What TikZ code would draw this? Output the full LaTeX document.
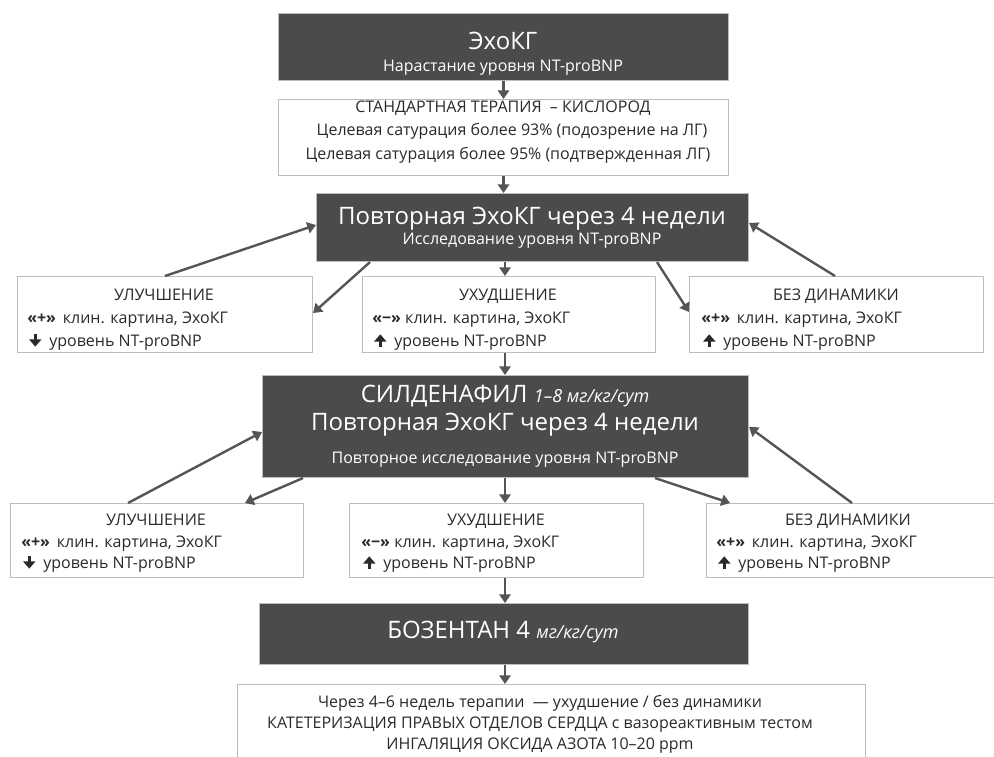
\documentclass[tikz,border=0pt]{standalone}
\usepackage{fontspec}
\setmainfont{Open Sans}
\usetikzlibrary{arrows.meta,calc}
\definecolor{darkbox}{HTML}{4B4B4D}
\definecolor{boxline}{HTML}{BDBDBD}
\definecolor{arrowc}{HTML}{555555}
\definecolor{txt}{HTML}{2A2A2A}
\newcommand{\bigtxt}{\fontsize{18}{20}\selectfont}
\newcommand{\smtxt}{\fontsize{12}{14}\selectfont}
\newcommand{\ittxt}{\fontsize{13.5}{15}\selectfont\itshape}
\newcommand{\dnarrow}{\tikz[baseline=0pt]\draw[txt,line width=2.1pt,-{Triangle[width=9pt,length=5.5pt]}] (0pt,9pt) -- (0pt,-0.5pt);\hspace{6pt}}
\newcommand{\uparr}{\tikz[baseline=0pt]\draw[txt,line width=2.1pt,-{Triangle[width=9pt,length=5.5pt]}] (0pt,-1pt) -- (0pt,8.8pt);\hspace{6pt}}
\begin{document}
\begin{tikzpicture}[x=0.75pt,y=-0.75pt,
  dbox/.style={draw=boxline, fill=darkbox, line width=0.8pt, inner sep=0pt, anchor=north west},
  wbox/.style={draw=boxline, fill=white, line width=0.8pt, inner sep=0pt, anchor=north west},
  arr/.style={draw=arrowc, line width=1.8pt, -{Triangle[width=8.5pt,length=6.5pt]}},
  wt/.style={text=white, inner sep=0pt, anchor=base},
  bt/.style={text=txt, inner sep=0pt, anchor=base},
  lt/.style={text=txt, inner sep=0pt, anchor=base west}]
\path[use as bounding box, clip] (0,0) rectangle (994,756);
\fill[white] (0,0) rectangle (994,756);
% boxes
\node[dbox, minimum width=337.5pt, minimum height=50.25pt] (b1) at (278,13) {};
\node[wbox, minimum width=337.5pt, minimum height=57pt] (b2) at (278,99) {};
\node[dbox, minimum width=324pt, minimum height=51pt] (b3) at (316,193) {};
\node[wbox, minimum width=221.25pt, minimum height=57pt] (b4) at (17,276) {};
\node[wbox, minimum width=219.75pt, minimum height=57pt] (b5) at (362,276) {};
\node[wbox, minimum width=220.5pt, minimum height=57pt] (b6) at (689,276) {};
\node[dbox, minimum width=364.5pt, minimum height=76.5pt] (b7) at (262,375) {};
\node[wbox, minimum width=219.75pt, minimum height=55.5pt] (b8) at (10,503) {};
\node[wbox, minimum width=220.5pt, minimum height=55.5pt] (b9) at (349,503) {};
\node[wbox, minimum width=220.5pt, minimum height=55.5pt] (b10) at (706,503) {};
\node[dbox, minimum width=366.75pt, minimum height=45.75pt] (b11) at (259,603) {};
\node[wbox, minimum width=471pt, minimum height=64.5pt] (b12) at (237,684) {};
% box 1
\node[wt] (t1a) at (503,50) {\bigtxt ЭхоКГ};
\node[wt] (t1b) at (503,72) {\smtxt Нарастание уровня NT-proBNP};
% box 2
\node[bt] (t2a) at (503,113) {\smtxt СТАНДАРТНАЯ ТЕРАПИЯ \ – КИСЛОРОД};
\node[bt] (t2b) at (512,136) {\smtxt Целевая сатурация более 93\% (подозрение на ЛГ)};
\node[bt] (t2c) at (508,159) {\smtxt Целевая сатурация более 95\% (подтвержденная ЛГ)};
% box 3
\node[wt] (t3a) at (532,224) {\bigtxt Повторная ЭхоКГ через 4 недели};
\node[wt] (t3b) at (532,244) {\smtxt Исследование уровня NT-proBNP};
% box 4
\node[bt] (t4a) at (164,300) {\smtxt УЛУЧШЕНИЕ};
\node[lt] (t4b) at (27,323) {\smtxt\textbf{«+»}\, клин. картина, ЭхоКГ};
\node[lt] (t4c) at (29,346) {\smtxt\dnarrow уровень NT-proBNP};
% box 5
\node[bt] (t5a) at (508,300) {\smtxt УХУДШЕНИЕ};
\node[lt] (t5b) at (372,323) {\smtxt\textbf{«−»} клин. картина, ЭхоКГ};
\node[lt] (t5c) at (374,346) {\smtxt\uparr уровень NT-proBNP};
% box 6
\node[bt] (t6a) at (836,300) {\smtxt БЕЗ ДИНАМИКИ};
\node[lt] (t6b) at (701,323) {\smtxt\textbf{«+»}\, клин. картина, ЭхоКГ};
\node[lt] (t6c) at (703,346) {\smtxt\uparr уровень NT-proBNP};
% box 7
\node[wt] (t7a) at (505,402) {\bigtxt СИЛДЕНАФИЛ {\ittxt 1–8 мг/кг/сут}};
\node[wt] (t7b) at (505,430) {\bigtxt Повторная ЭхоКГ через 4 недели};
\node[wt] (t7c) at (505,463) {\smtxt Повторное исследование уровня NT-proBNP};
% box 8
\node[bt] (t8a) at (156,525) {\smtxt УЛУЧШЕНИЕ};
\node[lt] (t8b) at (21,547) {\smtxt\textbf{«+»}\, клин. картина, ЭхоКГ};
\node[lt] (t8c) at (23,568) {\smtxt\dnarrow уровень NT-proBNP};
% box 9
\node[bt] (t9a) at (496,525) {\smtxt УХУДШЕНИЕ};
\node[lt] (t9b) at (361,547) {\smtxt\textbf{«−»} клин. картина, ЭхоКГ};
\node[lt] (t9c) at (363,568) {\smtxt\uparr уровень NT-proBNP};
% box 10
\node[bt] (t10a) at (848,525) {\smtxt БЕЗ ДИНАМИКИ};
\node[lt] (t10b) at (716,547) {\smtxt\textbf{«+»}\, клин. картина, ЭхоКГ};
\node[lt] (t10c) at (718,568) {\smtxt\uparr уровень NT-proBNP};
% box 11
\node[wt] (t11) at (503,638) {\bigtxt БОЗЕНТАН 4 {\ittxt мг/кг/сут}};
% box 12
\node[bt] (t12a) at (540,707) {\smtxt Через 4–6 недель терапии \ — ухудшение / без динамики};
\node[bt] (t12b) at (540,728) {\smtxt КАТЕТЕРИЗАЦИЯ ПРАВЫХ ОТДЕЛОВ СЕРДЦА с вазореактивным тестом};
\node[bt] (t12c) at (540,749) {\smtxt ИНГАЛЯЦИЯ ОКСИДА АЗОТА 10–20 ppm};
% arrows
\draw[arr] (b1.south) -- (b2.north);
\draw[arr] (b2.south) -- (b2.south |- b3.north);
\draw[arr] ($(b4.north west)+(148,0)$) -- ($(b3.north west)+(0,32)$);
\draw[arr] ($(b3.south west)+(54,0)$) -- ($(b4.north east)+(0,37)$);
\draw[arr] ($(b3.south west)+(189,0)$) -- ($(b5.north west)+(143,0)$);
\draw[arr] ($(b3.south west)+(341,0)$) -- ($(b6.north west)+(0,36)$);
\draw[arr] ($(b6.north west)+(146,0)$) -- ($(b3.north east)+(0,30)$);
\draw[arr] ($(b5.south west)+(143,0)$) -- ($(b7.north west)+(243,0)$);
\draw[arr] ($(b8.north west)+(118,0)$) -- ($(b7.north west)+(0,57)$);
\draw[arr] ($(b7.south west)+(41,0)$) -- ($(b8.north west)+(235,0)$);
\draw[arr] ($(b7.south west)+(243,0)$) -- ($(b9.north west)+(156,0)$);
\draw[arr] ($(b7.south west)+(393,0)$) -- ($(b10.north west)+(24,0)$);
\draw[arr] ($(b10.north west)+(146,0)$) -- ($(b7.north east)+(0,52)$);
\draw[arr] ($(b9.south west)+(156,0)$) -- ($(b11.north west)+(246,0)$);
\draw[arr] ($(b11.south west)+(246,0)$) -- ($(b12.north west)+(268,0)$);
\end{tikzpicture}
\end{document}
